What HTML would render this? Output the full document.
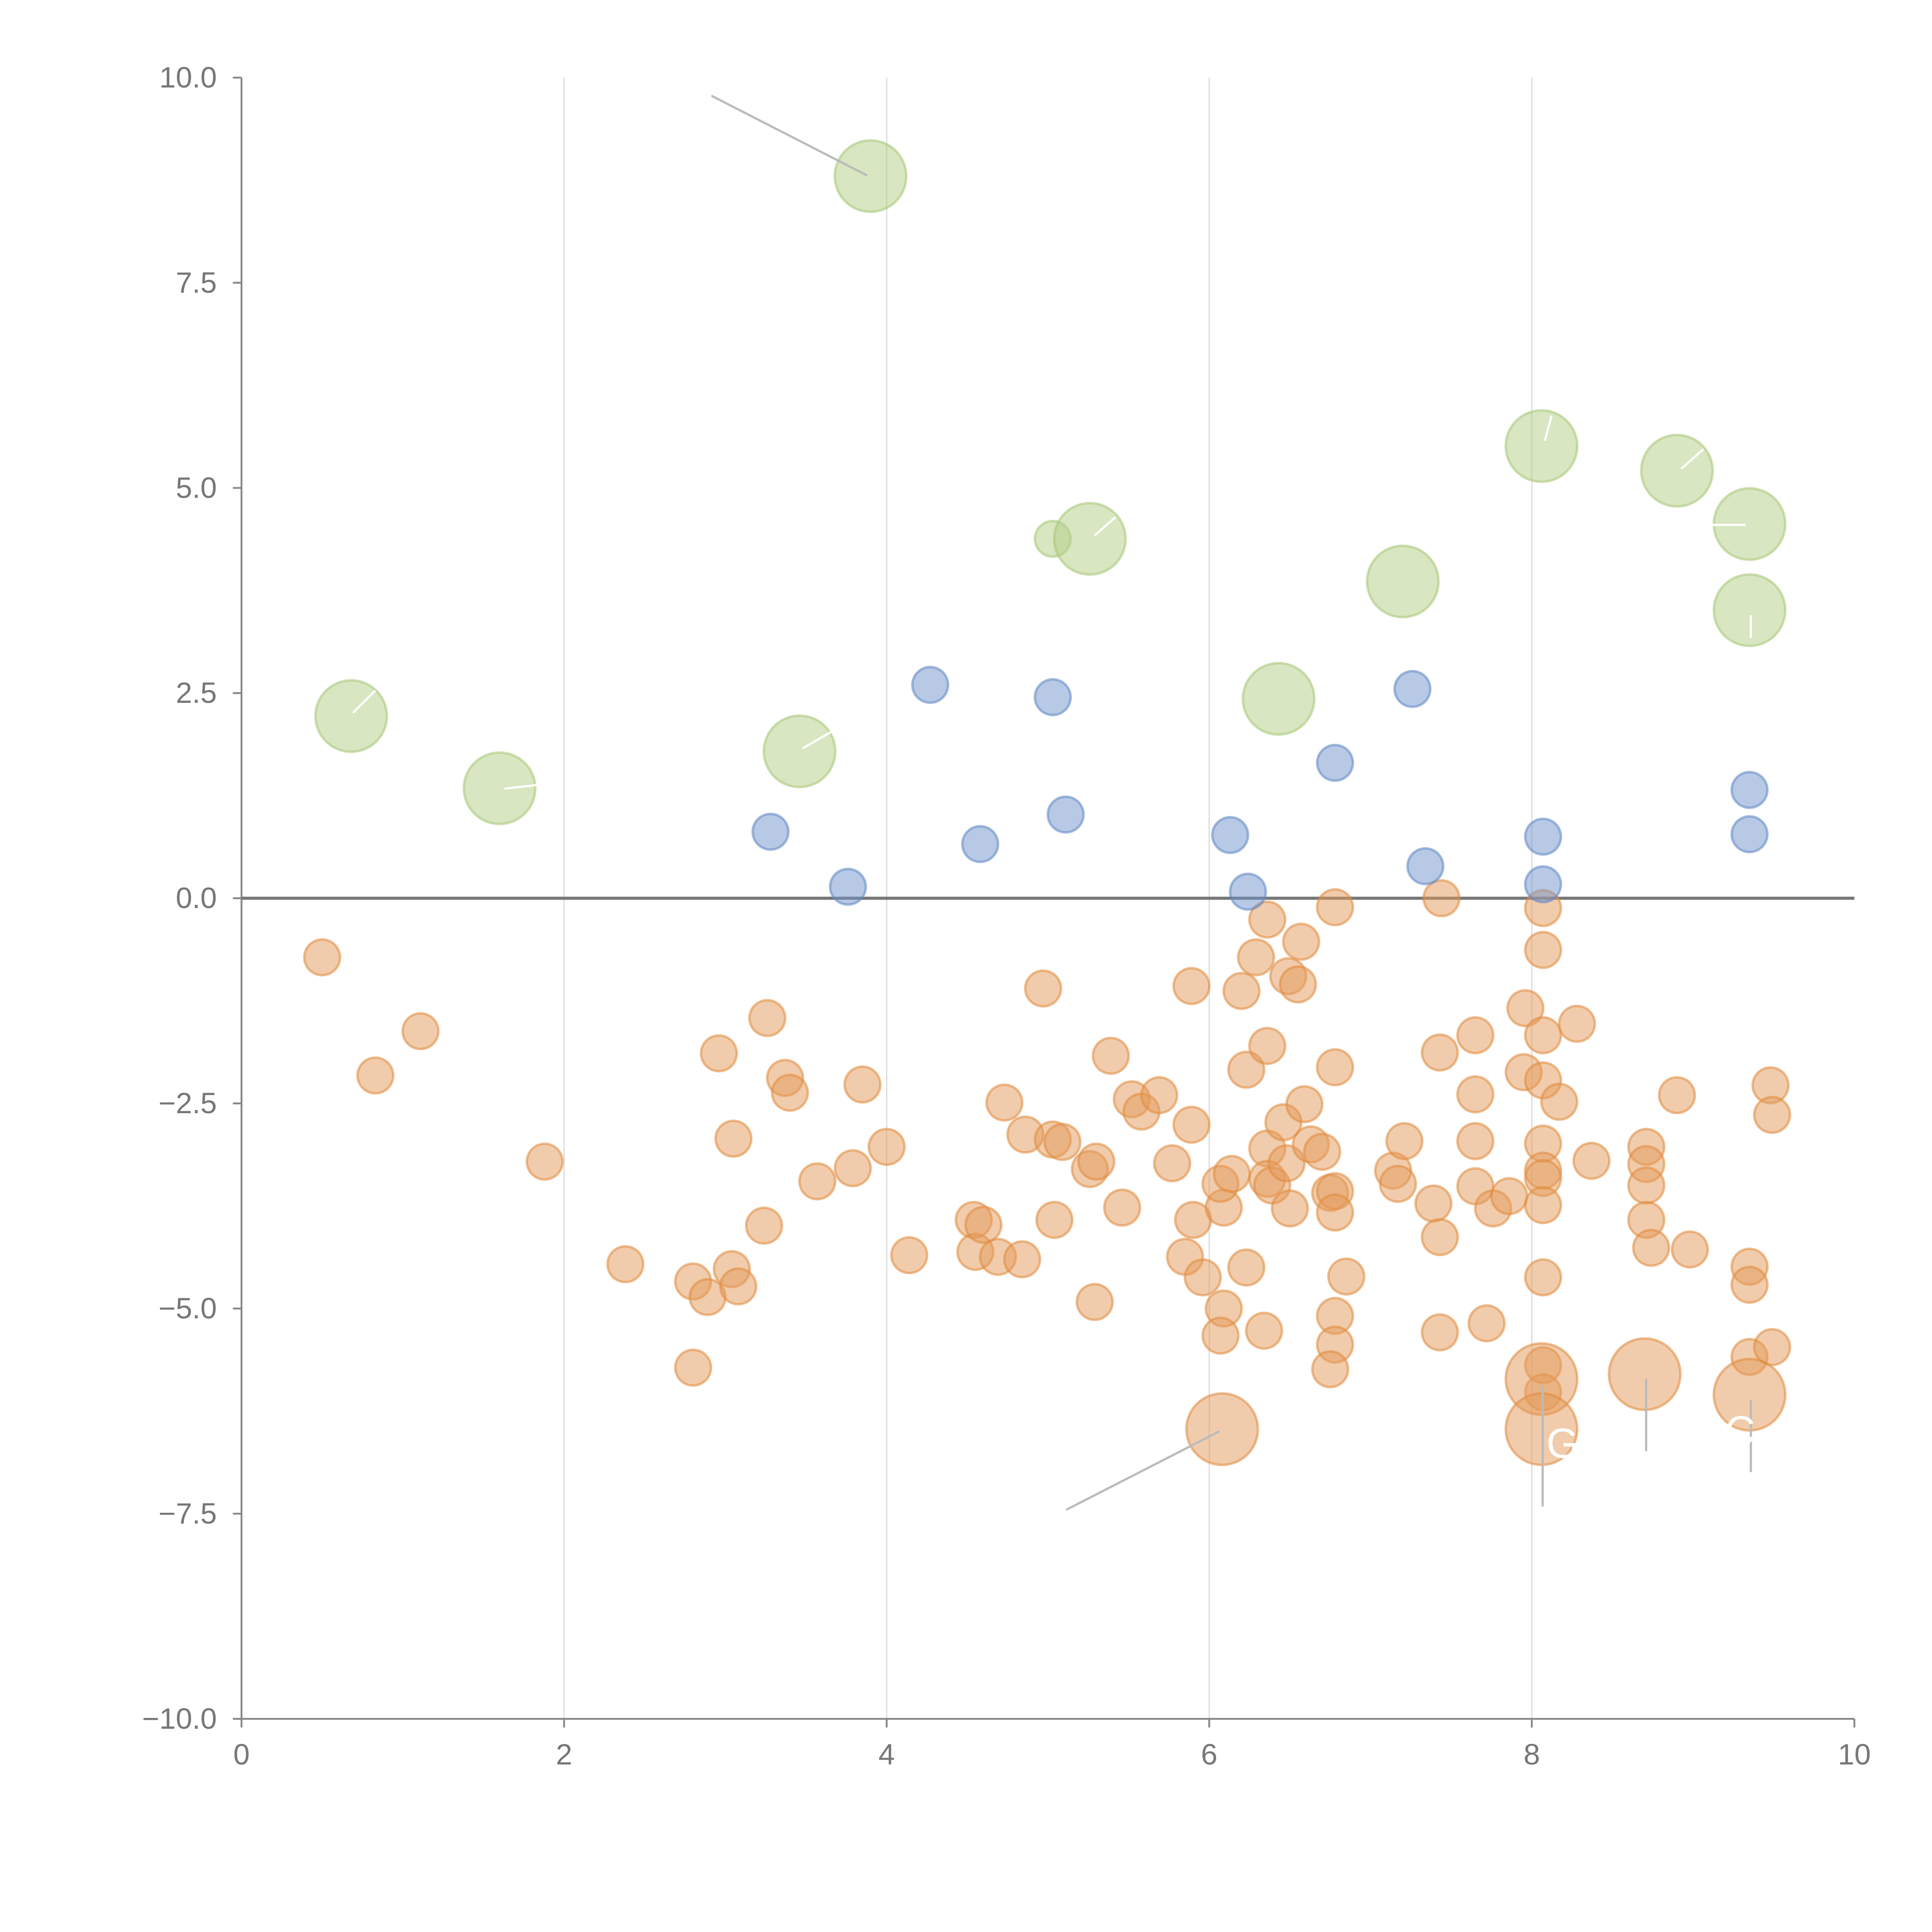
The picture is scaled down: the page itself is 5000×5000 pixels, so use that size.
<!DOCTYPE html>
<html><head><meta charset="utf-8"><style>
html,body{margin:0;padding:0;background:#fff;}
svg{display:block;font-family:"Liberation Sans",Arial,sans-serif;}
</style></head><body>
<svg id="chart" width="5000" height="5000" viewBox="0 0 1568 1568" xmlns="http://www.w3.org/2000/svg">
<g id="grid"></g>
<g id="axes"></g>
<g id="marks"></g>
<g id="annot"></g>
</svg>
<script>
const xTicks=[0,2,4,6,8,10];
const yTicks=[10,7.5,5,2.5,0,-2.5,-5,-7.5,-10];
const yTickLabels=["10.0","7.5","5.0","2.5","0.0","\u22122.5","\u22125.0","\u22127.5","\u221210.0"];
const blueX=[3.28,3.76,4.27,4.58,5.03,5.11,6.13,6.24,6.78,7.26,7.34,8.07,8.07,9.35,9.35];
const blueY=[0.81,0.14,2.60,0.66,2.45,1.02,0.77,0.08,1.65,2.55,0.39,0.75,0.17,1.32,0.78];
const greenX=[3.90,0.68,1.60,3.46,5.03,5.26,6.43,7.20,8.06,8.90,9.35,9.35];
const greenY=[8.80,2.22,1.34,1.79,4.38,4.38,2.43,3.86,5.51,5.21,4.56,3.51];
const greenSize=[4,4,4,4,1,4,4,4,4,4,4,4];
const orangeX=[0.50,0.83,1.11,1.88,2.38,2.80,2.80,2.89,2.96,3.05,3.04,3.08,3.24,3.26,3.37,3.40,3.57,3.79,3.85,4.00,4.14,4.54,4.55,4.60,4.69,4.73,4.84,4.86,4.97,5.03,5.04,5.09,5.26,5.30,5.29,5.39,5.46,5.52,5.58,5.69,5.77,5.89,5.89,5.90,5.85,5.96,6.09,6.07,6.09,6.07,6.14,6.20,6.23,6.23,6.29,6.34,6.36,6.36,6.36,6.36,6.39,6.46,6.49,6.50,6.48,6.55,6.57,6.59,6.63,6.70,6.78,6.78,6.75,6.78,6.78,6.78,6.78,6.75,6.85,7.14,7.17,7.21,7.39,7.43,7.43,7.43,7.44,7.65,7.65,7.65,7.65,7.72,7.76,7.86,7.96,7.95,8.07,8.07,8.07,8.07,8.17,8.07,8.07,8.07,8.07,8.07,8.07,8.07,8.28,8.37,8.71,8.71,8.71,8.71,8.74,8.90,8.98,9.35,9.35,9.35,9.48,9.49,9.49,6.08,8.06,8.06,8.70,9.35];
const orangeY=[-0.72,-2.16,-1.62,-3.21,-4.46,-4.67,-5.72,-4.86,-1.89,-2.93,-4.52,-4.73,-3.99,-1.46,-2.19,-2.37,-3.45,-3.29,-2.27,-3.03,-4.35,-3.92,-4.31,-3.98,-4.37,-2.49,-4.40,-2.88,-1.10,-2.94,-3.92,-2.97,-3.30,-3.21,-4.92,-1.92,-3.77,-2.45,-2.60,-2.40,-3.23,-2.76,-1.07,-3.92,-4.37,-4.62,-5.00,-5.33,-3.77,-3.48,-3.36,-1.13,-2.09,-4.50,-0.72,-5.27,-0.26,-1.80,-3.05,-3.42,-3.50,-2.73,-0.95,-3.78,-3.23,-1.05,-0.53,-2.51,-3.00,-3.09,-0.11,-2.06,-3.59,-3.57,-3.83,-5.09,-5.44,-5.74,-4.61,-3.32,-3.48,-2.96,-3.72,-4.13,-5.29,-1.88,0.00,-1.67,-2.39,-2.96,-3.51,-5.18,-3.78,-3.63,-1.34,-2.12,-0.12,-0.63,-1.67,-2.22,-2.48,-2.99,-3.32,-3.41,-3.74,-4.62,-5.69,-6.02,-1.53,-3.20,-3.03,-3.24,-3.50,-3.92,-4.26,-2.40,-4.28,-4.49,-4.71,-5.59,-2.28,-2.64,-5.47,-6.47,-5.86,-6.47,-5.80,-6.05];
const orangeBigCount=5;

const NS="http://www.w3.org/2000/svg";
const X0=196,X1=1505,Y0=1395,Y1=63;
function sx(v){return X0+(v-0)/(10-0)*(X1-X0);}
function sy(v){return Y0-(v+10)/20*(Y0-Y1);}
function rad(s){return 14.5*Math.sqrt(s);}
function mk(tag,attrs,parent){const e=document.createElementNS(NS,tag);for(const k in attrs)e.setAttribute(k,attrs[k]);parent.appendChild(e);return e;}
const grid=document.getElementById('grid'),axes=document.getElementById('axes'),marks=document.getElementById('marks'),annot=document.getElementById('annot');

xTicks.forEach(t=>{
  if(t>0&&t<10){const g=mk('line',{x1:sx(t),x2:sx(t),y1:Y1,y2:Y0,stroke:'#dcdcdc','stroke-width':1},grid);
  
  }
  const tk=mk('line',{x1:sx(t),x2:sx(t),y1:Y0,y2:Y0+7,stroke:'#888','stroke-width':1.5},axes);
  
  
  const tx=mk('text',{x:sx(t),y:Y0+37,'text-anchor':'middle','font-size':24,fill:'#777'},axes);
  tx.textContent=String(t);
  
  
});
yTicks.forEach((t,i)=>{
  const tk=mk('line',{x1:X0-7,x2:X0,y1:sy(t),y2:sy(t),stroke:'#888','stroke-width':1.5},axes);
  
  
  const tx=mk('text',{x:X0-20,y:sy(t)+8,'text-anchor':'end','font-size':24,fill:'#777'},axes);
  tx.textContent=yTickLabels[i];
  
  
});
const ya=mk('line',{x1:X0,x2:X0,y1:Y1,y2:Y0,stroke:'#888','stroke-width':1.5},axes);


const xa=mk('line',{x1:X0,x2:X1,y1:Y0,y2:Y0,stroke:'#888','stroke-width':1.5},axes);


const zl=mk('line',{x1:X0,x2:X1,y1:sy(0),y2:sy(0),stroke:'#777','stroke-width':2.5},axes);



function dot(x,y,s,fill,stroke,name){
  const c=mk('circle',{cx:sx(x),cy:sy(y),r:rad(s),fill:fill,'fill-opacity':0.5,stroke:stroke,'stroke-opacity':0.55,'stroke-width':2},marks);
  
  
}
orangeX.forEach((x,i)=>dot(x,orangeY[i],i>=orangeX.length-orangeBigCount?4:1,'#e49a5a','#e08a3c','orange-bubble'));
blueX.forEach((x,i)=>dot(x,blueY[i],1,'#6f93cc','#5f86c4','blue-bubble'));
greenX.forEach((x,i)=>dot(x,greenY[i],greenSize[i],'#b1cd83','#a7c777','green-bubble'));

const leaders=[[578,78,703,142,'#bbb'],[866,1225,989,1162,'#bbb'],[1252,1125,1252,1222,'#bbb'],[1336,1120,1336,1177,'#bbb'],[1421,1137,1421,1194,'#bbb'],
[287,578,304,561,'#fff'],[410,640,455,635,'#fff'],[652,607,678,592,'#fff'],[889,434,905,420,'#fff'],[1254,357,1259,338,'#fff'],[1365,380,1382,365,'#fff'],[1381,426,1416,426,'#fff'],[1421,500,1421,517,'#fff']];
leaders.forEach(l=>{
  const e=mk('line',{x1:l[0],y1:l[1],x2:l[2],y2:l[3],stroke:l[4],'stroke-width':1.8,'stroke-linecap':'round'},annot);
  
  
});
const t1=mk('text',{x:1255,y:1183,'font-size':34,fill:'#fff'},annot);
t1.textContent='G';


const t2=mk('text',{x:1400,y:1173,'font-size':34,fill:'#fff'},annot);
t2.textContent='C';


</script>
</body></html>
